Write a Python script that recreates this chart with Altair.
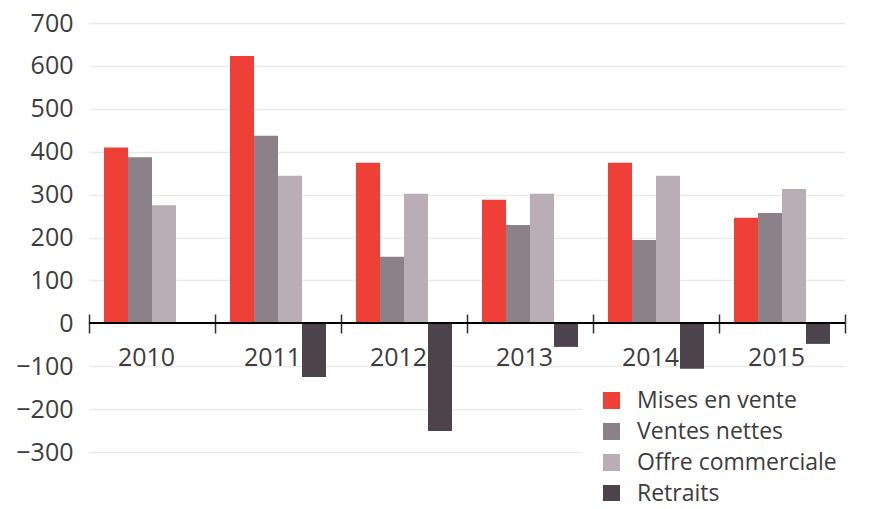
import altair as alt
import pandas as pd

years = ["2010", "2011", "2012", "2013", "2014", "2015"]
series = ["Mises en vente", "Ventes nettes", "Offre commerciale", "Retraits"]
mises_en_vente = [410, 623, 374, 288, 374, 246]
ventes_nettes = [387, 437, 155, 229, 194, 257]
offre_commerciale = [275, 344, 302, 302, 344, 313]
retraits = [None, -125, -251, -55, -106, -48]
colors = ["#ee4037", "#8c8089", "#b9aeb6", "#4d434a"]
y_ticks = [-300, -200, -100, 0, 100, 200, 300, 400, 500, 600, 700]

rows = []
for name, vals in zip(series, [mises_en_vente, ventes_nettes, offre_commerciale, retraits]):
    for yr, v in zip(years, vals):
        if v is not None:
            rows.append({"year": yr, "serie": name, "value": v})
df = pd.DataFrame(rows)

FONT = "Open Sans"
TXT = "#3d3d3d"

base = alt.Chart(df)

bars = base.mark_bar().encode(
    x=alt.X("year:N", sort=years, title=None,
            scale=alt.Scale(paddingInner=0, paddingOuter=0),
            axis=alt.Axis(labelAngle=0, domain=False, tickBand="extent",
                          tickColor="#333333", tickWidth=1.5, tickSize=19,
                          offset=-138, labelPadding=12, labelOffset=-6,
                          labelFont=FONT, labelFontSize=25, labelColor=TXT,
                          grid=False)),
    xOffset=alt.XOffset("serie:N", sort=series,
                        scale=alt.Scale(paddingInner=0, paddingOuter=0.625)),
    y=alt.Y("value:Q", title=None,
            scale=alt.Scale(domain=[-300, 700], nice=False, zero=False),
            axis=alt.Axis(values=y_ticks, domain=False, ticks=False,
                          labelPadding=16, labelFont=FONT, labelFontSize=25,
                          labelColor=TXT, gridColor="#ebebeb", gridWidth=1.5)),
    color=alt.Color("serie:N", sort=series,
                    scale=alt.Scale(domain=series, range=colors),
                    legend=alt.Legend(title=None, orient="none", legendX=493, legendY=348,
                                      fillColor="white", padding=18,
                                      symbolType="square", symbolSize=289,
                                      symbolStrokeWidth=0, symbolOpacity=1,
                                      labelFont=FONT, labelFontSize=23,
                                      labelColor=TXT, labelOffset=14,
                                      rowPadding=7, labelLimit=400)),
)

zero = base.mark_rule(color="#000000", strokeWidth=1.5).encode(y=alt.datum(0))

chart = alt.layer(bars, zero).properties(
    width=756, height=429,
    autosize=alt.AutoSizeParams(type="none"),
    padding={"left": 81, "top": 15, "right": 18, "bottom": 49},
).configure_view(stroke=None)

chart.save("out.html", embed_options={"renderer": "svg", "actions": False})
